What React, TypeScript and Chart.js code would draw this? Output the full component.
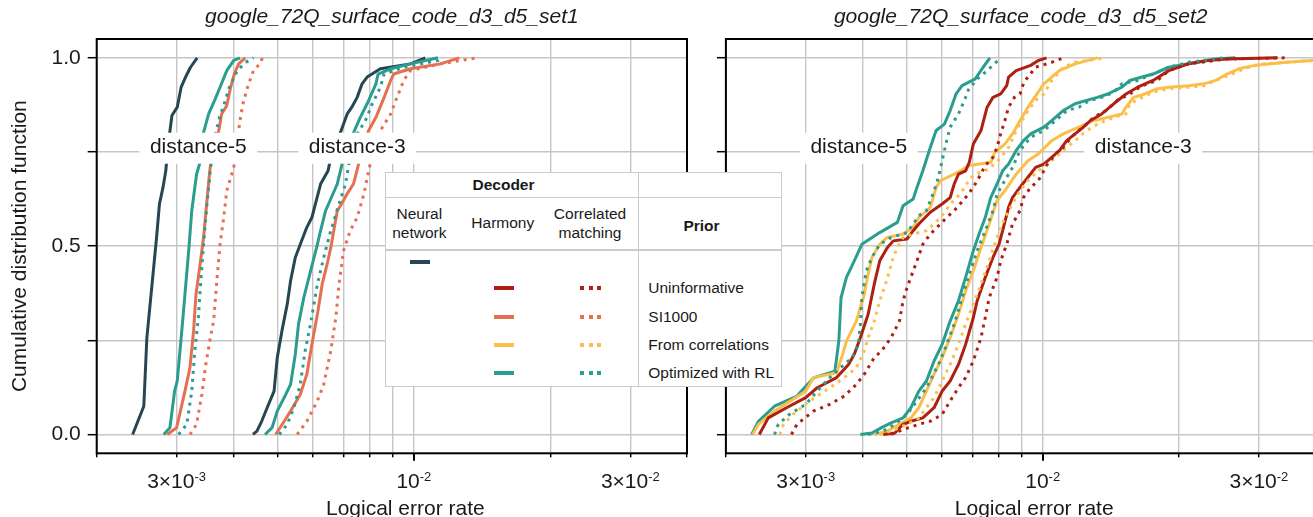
import React, { useEffect, useRef } from 'react';
import { Chart, registerables } from 'chart.js';

Chart.register(...registerables);

const FONT = '"Liberation Sans", Arial, Helvetica, sans-serif';
const INK = '#1a1a1a';
const GRID = '#c6c6c6';

const C_NN = '#264653';
const C_UNINF = '#ae2012';
const C_SI1000 = '#e76f51';
const C_CORR = '#fbbf49';
const C_RL = '#2a9d8f';

// x = logical error rate in units of 1e-3, y = cumulative distribution function
const UNIT = 1e-3;

// ---------- set 1 ----------
const S1_D5_NN = [[2.40,0],[2.54,0.075],[2.58,0.257],[2.64,0.381],[2.71,0.523],[2.75,0.612],[2.80,0.656],[2.84,0.70],[2.87,0.763],[2.93,0.847],[3.01,0.869],[3.07,0.922],[3.14,0.949],[3.22,0.975],[3.33,1.0]];
const S1_D5_HARM_RL = [[2.81,0],[2.90,0.018],[2.97,0.115],[3.01,0.142],[3.08,0.275],[3.13,0.372],[3.19,0.488],[3.24,0.594],[3.32,0.691],[3.37,0.718],[3.44,0.802],[3.53,0.851],[3.65,0.891],[3.74,0.922],[3.87,0.966],[4.01,0.993],[4.14,1.0]];
const S1_D5_HARM_SI = [[2.86,0],[3.00,0.018],[3.13,0.115],[3.21,0.177],[3.27,0.275],[3.31,0.372],[3.38,0.452],[3.44,0.523],[3.50,0.621],[3.55,0.70],[3.61,0.763],[3.71,0.802],[3.77,0.851],[3.87,0.873],[3.94,0.918],[4.02,0.957],[4.11,0.984],[4.25,1.0]];
const S1_D5_CM_RL = [[3.03,0],[3.16,0.027],[3.24,0.115],[3.29,0.222],[3.35,0.310],[3.38,0.381],[3.44,0.505],[3.50,0.612],[3.56,0.70],[3.61,0.763],[3.67,0.807],[3.73,0.842],[3.81,0.873],[3.91,0.918],[4.08,0.966],[4.26,0.988],[4.43,1.0]];
const S1_D5_CM_SI = [[3.21,0],[3.32,0.027],[3.41,0.106],[3.47,0.177],[3.56,0.257],[3.62,0.301],[3.68,0.408],[3.74,0.505],[3.81,0.576],[3.87,0.647],[4.01,0.709],[4.06,0.763],[4.11,0.807],[4.16,0.851],[4.21,0.882],[4.30,0.922],[4.43,0.966],[4.61,0.988],[4.63,1.0]];

const S1_D3_NN = [[4.42,0],[4.51,0.009],[4.62,0.035],[4.75,0.071],[4.92,0.115],[5.00,0.204],[5.12,0.275],[5.26,0.346],[5.35,0.408],[5.48,0.470],[5.62,0.505],[5.81,0.550],[5.96,0.576],[6.23,0.665],[6.47,0.70],[6.61,0.754],[6.89,0.802],[7.13,0.851],[7.30,0.869],[7.50,0.895],[7.69,0.931],[7.89,0.949],[8.44,0.971],[9.83,0.984],[10.6,1.0]];
const S1_D3_HARM_RL = [[4.70,0],[4.87,0.018],[5.00,0.062],[5.18,0.098],[5.35,0.133],[5.48,0.213],[5.57,0.293],[5.72,0.363],[5.92,0.434],[6.13,0.505],[6.23,0.541],[6.39,0.594],[6.78,0.665],[6.92,0.709],[7.07,0.763],[7.37,0.802],[7.62,0.842],[7.89,0.878],[8.25,0.931],[8.34,0.957],[8.89,0.971],[9.83,0.984],[11.3,1.0]];
const S1_D3_HARM_SI = [[4.96,0],[5.18,0.035],[5.35,0.062],[5.62,0.106],[5.81,0.160],[5.96,0.239],[6.13,0.319],[6.28,0.399],[6.44,0.452],[6.56,0.496],[6.78,0.594],[6.89,0.607],[7.12,0.638],[7.36,0.665],[7.49,0.70],[7.68,0.754],[7.95,0.807],[8.25,0.842],[8.60,0.895],[8.89,0.940],[9.03,0.957],[9.83,0.971],[11.44,0.984],[12.6,1.0]];
const S1_D3_CM_RL = [[5.05,0],[5.26,0.027],[5.44,0.071],[5.62,0.133],[5.76,0.222],[5.92,0.293],[6.13,0.399],[6.33,0.470],[6.56,0.541],[6.84,0.612],[7.07,0.665],[7.15,0.70],[7.30,0.763],[7.50,0.798],[7.82,0.833],[8.10,0.878],[8.44,0.922],[8.60,0.957],[9.50,0.975],[11.3,0.993],[11.5,1.0]];
const S1_D3_CM_SI = [[5.53,0],[5.81,0.035],[6.13,0.089],[6.33,0.133],[6.56,0.222],[6.73,0.310],[6.84,0.399],[7.00,0.488],[7.24,0.541],[7.50,0.576],[7.76,0.638],[7.95,0.70],[8.15,0.754],[8.44,0.807],[8.89,0.851],[9.18,0.895],[9.50,0.940],[9.83,0.966],[11.44,0.984],[13.8,1.0]];

// ---------- set 2 ----------
const S2_D5_HARM_RL = [[2.28,0],[2.36,0.035],[2.56,0.075],[2.87,0.102],[2.96,0.120],[3.13,0.151],[3.48,0.168],[3.55,0.248],[3.59,0.363],[3.69,0.417],[3.84,0.461],[3.99,0.505],[4.37,0.536],[4.78,0.563],[4.92,0.607],[5.18,0.625],[5.28,0.656],[5.44,0.70],[5.65,0.762],[5.82,0.807],[6.07,0.824],[6.25,0.860],[6.44,0.904],[6.64,0.926],[7.10,0.944],[7.39,0.975],[7.65,1.0]];
const S2_D5_HARM_CORR = [[2.29,0],[2.36,0.027],[2.56,0.062],[3.00,0.115],[3.12,0.151],[3.51,0.164],[3.62,0.213],[3.69,0.248],[3.88,0.301],[3.96,0.337],[4.04,0.372],[4.12,0.426],[4.20,0.470],[4.37,0.505],[4.54,0.523],[4.92,0.532],[5.18,0.550],[5.33,0.576],[5.65,0.603],[5.82,0.656],[5.95,0.674],[6.38,0.691],[6.89,0.714],[7.69,0.723],[7.84,0.749],[8.25,0.771],[8.58,0.798],[8.91,0.833],[9.28,0.869],[10.06,0.931],[10.88,0.966],[11.79,0.984],[13.2,1.0]];
const S2_D5_HARM_UNINF = [[2.37,0],[2.48,0.044],[2.76,0.075],[3.00,0.098],[3.18,0.124],[3.51,0.151],[3.73,0.186],[3.84,0.213],[3.96,0.257],[4.12,0.319],[4.25,0.399],[4.37,0.461],[4.54,0.496],[4.68,0.514],[5.02,0.519],[5.18,0.541],[5.33,0.559],[5.65,0.590],[6.00,0.612],[6.25,0.629],[6.38,0.665],[6.52,0.691],[6.76,0.70],[6.89,0.723],[7.03,0.771],[7.31,0.807],[7.54,0.869],[7.77,0.895],[8.08,0.904],[8.33,0.926],[8.41,0.949],[8.74,0.966],[9.41,0.980],[9.78,0.993],[10.2,1.0]];
const S2_D5_CM_CORR = [[2.63,0],[2.68,0.027],[2.81,0.053],[3.06,0.089],[3.39,0.124],[3.65,0.151],[3.88,0.177],[4.04,0.222],[4.12,0.257],[4.25,0.301],[4.37,0.355],[4.50,0.399],[4.59,0.434],[4.68,0.470],[4.78,0.496],[4.92,0.523],[5.18,0.532],[5.54,0.541],[5.76,0.559],[6.00,0.581],[6.25,0.612],[6.57,0.638],[6.76,0.660],[6.89,0.678],[7.10,0.691],[7.47,0.70],[7.93,0.723],[8.41,0.762],[8.74,0.807],[9.00,0.833],[9.28,0.860],[9.65,0.887],[10.06,0.904],[10.47,0.940],[11.1,0.975],[11.79,0.988],[13.8,1.0]];
const S2_D5_CM_RL = [[2.56,0],[2.61,0.027],[2.76,0.053],[3.00,0.080],[3.18,0.115],[3.39,0.151],[3.58,0.177],[3.80,0.204],[3.92,0.239],[3.96,0.293],[3.99,0.363],[4.08,0.434],[4.20,0.470],[4.37,0.505],[4.63,0.523],[5.02,0.536],[5.18,0.559],[5.33,0.581],[5.54,0.594],[5.76,0.647],[5.89,0.683],[6.00,0.727],[6.14,0.780],[6.25,0.816],[6.52,0.851],[6.76,0.895],[6.89,0.922],[7.03,0.931],[7.17,0.944],[7.54,0.966],[8.08,1.0]];
const S2_D5_CM_UNINF = [[2.79,0],[2.87,0.027],[3.12,0.062],[3.39,0.080],[3.65,0.102],[3.88,0.133],[4.04,0.160],[4.25,0.204],[4.41,0.222],[4.63,0.257],[4.83,0.301],[4.92,0.355],[5.02,0.390],[5.18,0.434],[5.28,0.461],[5.44,0.505],[5.65,0.532],[5.95,0.559],[6.14,0.576],[6.38,0.594],[6.76,0.629],[7.03,0.656],[7.24,0.683],[7.47,0.714],[7.77,0.736],[7.93,0.762],[8.08,0.798],[8.25,0.833],[8.41,0.869],[8.66,0.895],[8.91,0.904],[9.09,0.935],[9.28,0.949],[9.65,0.975],[10.47,0.988],[11.1,1.0]];

const S2_D3_HARM_RL = [[3.96,0],[4.20,0.004],[4.41,0.018],[4.63,0.031],[4.92,0.044],[5.12,0.071],[5.33,0.115],[5.54,0.142],[5.76,0.195],[6.00,0.239],[6.25,0.301],[6.52,0.355],[6.76,0.417],[7.03,0.488],[7.24,0.532],[7.47,0.576],[7.68,0.629],[7.93,0.665],[8.16,0.70],[8.41,0.718],[8.74,0.754],[9.07,0.780],[9.41,0.798],[10.06,0.816],[10.47,0.833],[11.1,0.860],[11.79,0.878],[12.5,0.887],[13.2,0.895],[13.92,0.904],[14.96,0.922],[15.57,0.940],[16.57,0.949],[17.52,0.957],[18.98,0.975],[21.84,0.988],[24.08,0.997],[26.6,1.0]];
const S2_D3_CM_RL = [[4.12,0],[4.45,0.009],[4.72,0.027],[5.02,0.053],[5.28,0.089],[5.54,0.124],[5.89,0.186],[6.14,0.239],[6.38,0.293],[6.64,0.363],[6.89,0.426],[7.17,0.488],[7.47,0.541],[7.77,0.594],[7.93,0.638],[8.25,0.674],[8.58,0.709],[8.91,0.754],[9.41,0.789],[10.06,0.807],[10.67,0.833],[11.3,0.860],[12.02,0.869],[12.7,0.887],[13.5,0.895],[14.35,0.909],[14.96,0.931],[16.2,0.940],[17.52,0.957],[18.98,0.975],[20.98,0.988],[25.08,1.0]];
const S2_D3_HARM_CORR = [[4.25,0],[4.54,0.009],[4.83,0.027],[5.12,0.044],[5.33,0.071],[5.54,0.115],[5.76,0.160],[6.00,0.204],[6.25,0.257],[6.52,0.319],[6.76,0.381],[7.03,0.434],[7.31,0.496],[7.62,0.559],[7.93,0.621],[8.25,0.647],[8.74,0.691],[9.28,0.727],[9.78,0.745],[10.47,0.780],[11.1,0.798],[12.02,0.816],[12.95,0.833],[13.92,0.842],[14.96,0.851],[15.27,0.869],[15.88,0.895],[16.8,0.904],[17.9,0.918],[18.98,0.922],[20.98,0.926],[22.7,0.931],[24.08,0.940],[25.5,0.957],[27.1,0.971],[29.4,0.980],[31.9,0.984],[34.5,0.988],[39.4,0.993],[45.3,1.0]];
const S2_D3_CM_CORR = [[4.37,0],[4.72,0.013],[5.02,0.027],[5.33,0.044],[5.54,0.071],[5.76,0.098],[6.00,0.142],[6.25,0.186],[6.52,0.239],[6.76,0.293],[7.03,0.346],[7.31,0.399],[7.62,0.461],[7.93,0.523],[8.25,0.576],[8.58,0.612],[8.91,0.647],[9.28,0.674],[9.78,0.70],[10.47,0.727],[11.1,0.754],[11.79,0.780],[12.5,0.807],[13.2,0.824],[14.35,0.842],[15.27,0.851],[15.57,0.878],[16.57,0.895],[17.52,0.909],[18.98,0.918],[20.98,0.922],[22.7,0.926],[24.08,0.940],[26.1,0.957],[28.4,0.975],[30.8,0.984],[34.5,0.988],[39.4,0.993],[45.3,1.0]];
const S2_D3_HARM_UNINF = [[4.45,0],[4.72,0.004],[4.92,0.027],[5.12,0.035],[5.44,0.044],[5.76,0.071],[6.00,0.115],[6.25,0.142],[6.52,0.186],[6.76,0.239],[7.03,0.310],[7.17,0.355],[7.47,0.417],[7.77,0.470],[8.01,0.505],[8.16,0.541],[8.41,0.603],[8.58,0.629],[8.91,0.656],[9.28,0.683],[9.65,0.709],[10.06,0.718],[10.47,0.736],[10.9,0.754],[11.3,0.780],[11.79,0.798],[12.3,0.816],[12.73,0.833],[13.5,0.851],[14.35,0.878],[15.27,0.904],[16.2,0.922],[17.52,0.940],[18.98,0.966],[20.98,0.984],[23.1,0.993],[25.5,0.997],[33.0,1.0]];
const S2_D3_CM_UNINF = [[4.63,0],[4.92,0.013],[5.33,0.027],[5.65,0.035],[6.00,0.053],[6.25,0.089],[6.52,0.124],[6.76,0.151],[7.03,0.195],[7.31,0.257],[7.47,0.310],[7.62,0.363],[7.93,0.417],[8.08,0.461],[8.33,0.505],[8.58,0.559],[8.91,0.594],[9.07,0.629],[9.41,0.656],[9.78,0.674],[10.06,0.70],[10.25,0.718],[10.67,0.745],[11.1,0.762],[11.56,0.789],[12.02,0.807],[12.5,0.824],[12.95,0.842],[13.8,0.860],[14.6,0.887],[15.57,0.904],[16.57,0.926],[17.9,0.940],[18.98,0.966],[20.98,0.984],[25.5,0.997],[34.5,1.0]];

// ---------- axes ----------
const X_MIN = 2e-3;
const X_MAX = 4e-2;
const X_GRID = [2, 3, 4, 5, 6, 7, 8, 9, 10, 20, 30, 40];
const X_LABELS = [
  { value: 3, base: '3×10', exp: '-3' },
  { value: 10, base: '10', exp: '-2' },
  { value: 30, base: '3×10', exp: '-2' },
];
const X_MAJOR = [10];
const Y_TICKS = [0, 0.25, 0.5, 0.75, 1];
const Y_LABELLED = [0, 0.5, 1];

const TITLE_1 = 'google_72Q_surface_code_d3_d5_set1';
const TITLE_2 = 'google_72Q_surface_code_d3_d5_set2';
const X_TITLE = 'Logical error rate';
const Y_TITLE = 'Cumulative distribution function';

const LABELS_1 = [
  { text: 'distance-5', x: 3.35, y: 0.76 },
  { text: 'distance-3', x: 7.5, y: 0.76 },
];
const LABELS_2 = [
  { text: 'distance-5', x: 3.93, y: 0.76 },
  { text: 'distance-3', x: 16.67, y: 0.76 },
];

const DECODERS = ['Neural network', 'Harmony', 'Correlated matching'];
const PRIORS = ['Uninformative', 'SI1000', 'From correlations', 'Optimized with RL'];
const PRIOR_COLORS = [C_UNINF, C_SI1000, C_CORR, C_RL];

type Curve = { label: string; data: number[][]; color: string; dotted: boolean };

const CURVES_1: Curve[] = [
  { label: 'CM SI1000 d5', data: S1_D5_CM_SI, color: C_SI1000, dotted: true },
  { label: 'CM RL d5', data: S1_D5_CM_RL, color: C_RL, dotted: true },
  { label: 'Harmony SI1000 d5', data: S1_D5_HARM_SI, color: C_SI1000, dotted: false },
  { label: 'Harmony RL d5', data: S1_D5_HARM_RL, color: C_RL, dotted: false },
  { label: 'NN d5', data: S1_D5_NN, color: C_NN, dotted: false },
  { label: 'CM SI1000 d3', data: S1_D3_CM_SI, color: C_SI1000, dotted: true },
  { label: 'CM RL d3', data: S1_D3_CM_RL, color: C_RL, dotted: true },
  { label: 'Harmony SI1000 d3', data: S1_D3_HARM_SI, color: C_SI1000, dotted: false },
  { label: 'Harmony RL d3', data: S1_D3_HARM_RL, color: C_RL, dotted: false },
  { label: 'NN d3', data: S1_D3_NN, color: C_NN, dotted: false },
];

const CURVES_2: Curve[] = [
  { label: 'CM Uninformative d5', data: S2_D5_CM_UNINF, color: C_UNINF, dotted: true },
  { label: 'CM From correlations d5', data: S2_D5_CM_CORR, color: C_CORR, dotted: true },
  { label: 'CM RL d5', data: S2_D5_CM_RL, color: C_RL, dotted: true },
  { label: 'Harmony Uninformative d5', data: S2_D5_HARM_UNINF, color: C_UNINF, dotted: false },
  { label: 'Harmony From correlations d5', data: S2_D5_HARM_CORR, color: C_CORR, dotted: false },
  { label: 'Harmony RL d5', data: S2_D5_HARM_RL, color: C_RL, dotted: false },
  { label: 'CM Uninformative d3', data: S2_D3_CM_UNINF, color: C_UNINF, dotted: true },
  { label: 'CM From correlations d3', data: S2_D3_CM_CORR, color: C_CORR, dotted: true },
  { label: 'CM RL d3', data: S2_D3_CM_RL, color: C_RL, dotted: true },
  { label: 'Harmony Uninformative d3', data: S2_D3_HARM_UNINF, color: C_UNINF, dotted: false },
  { label: 'Harmony From correlations d3', data: S2_D3_HARM_CORR, color: C_CORR, dotted: false },
  { label: 'Harmony RL d3', data: S2_D3_HARM_RL, color: C_RL, dotted: false },
];

const decorPlugin = {
  id: 'panelDecor',
  afterDatasetsDraw(chart: any, _args: any, opts: any) {
    const { ctx, chartArea: a } = chart;
    const xs = chart.scales.x;
    const ys = chart.scales.y;
    ctx.save();
    // distance labels with white boxes
    ctx.font = `21px ${FONT}`;
    ctx.textAlign = 'center';
    ctx.textBaseline = 'middle';
    for (const lab of opts.labels || []) {
      const px = xs.getPixelForValue(lab.x * UNIT);
      const py = ys.getPixelForValue(lab.y);
      const w = ctx.measureText(lab.text).width + 21;
      const h = 31;
      ctx.fillStyle = '#ffffff';
      ctx.fillRect(px - w / 2, py - h / 2, w, h);
      ctx.fillStyle = INK;
      ctx.fillText(lab.text, px, py - 1);
    }
    // frame
    ctx.strokeStyle = '#000';
    ctx.lineWidth = 2;
    ctx.strokeRect(a.left, a.top, a.right - a.left, a.bottom - a.top);
    // major x ticks (longer)
    ctx.lineWidth = 2;
    for (const v of X_MAJOR) {
      const px = Math.round(xs.getPixelForValue(v * UNIT)) + 0.0;
      ctx.beginPath();
      ctx.moveTo(px, a.bottom);
      ctx.lineTo(px, a.bottom + 7.5);
      ctx.stroke();
    }
    // x tick labels with superscripts
    ctx.fillStyle = INK;
    ctx.textAlign = 'left';
    ctx.textBaseline = 'alphabetic';
    const base = a.bottom + 34.4;
    for (const t of X_LABELS) {
      const px = xs.getPixelForValue(t.value * UNIT);
      ctx.font = `21px ${FONT}`;
      const wm = ctx.measureText(t.base).width;
      ctx.font = `13px ${FONT}`;
      const we = ctx.measureText(t.exp).width;
      const x0 = px - (wm + we) / 2;
      ctx.font = `21px ${FONT}`;
      ctx.fillText(t.base, x0, base);
      ctx.font = `13px ${FONT}`;
      ctx.fillText(t.exp, x0 + wm, base - 6.5);
    }
    // x title
    ctx.font = `21px ${FONT}`;
    ctx.textAlign = 'center';
    ctx.fillText(opts.xTitle, (a.left + a.right) / 2 + 13.5, 515);
    ctx.restore();
  },
};

type Panel = {
  title: string;
  curves: Curve[];
  labels: { text: string; x: number; y: number }[];
  yWidth: number;
  padRight: number;
  yLabels: boolean;
};

const PANEL_1: Panel = { title: TITLE_1, curves: CURVES_1, labels: LABELS_1, yWidth: 96.7, padRight: 18, yLabels: true };
const PANEL_2: Panel = { title: TITLE_2, curves: CURVES_2, labels: LABELS_2, yWidth: 20.9, padRight: 2.5, yLabels: false };

function makeConfig(p: Panel): any {
  return {
    type: 'scatter',
    data: {
      datasets: p.curves.map((c) => ({
        label: c.label,
        data: c.data.map(([x, y]) => ({ x: x * UNIT, y })),
        showLine: true,
        borderColor: c.color,
        backgroundColor: c.color,
        borderWidth: 3,
        borderDash: c.dotted ? [3, 5] : [],
        borderCapStyle: 'butt',
        borderJoinStyle: 'round',
        pointRadius: 0,
        pointHoverRadius: 0,
        tension: 0,
        fill: false,
      })),
    },
    options: {
      responsive: false,
      animation: false,
      events: [],
      layout: { padding: { left: 0, right: p.padRight, top: 0, bottom: 0 } },
      plugins: {
        legend: { display: false },
        tooltip: { enabled: false },
        title: {
          display: true,
          text: p.title,
          fullSize: false,
          color: INK,
          font: { family: FONT, size: 21, style: 'italic', weight: 'normal' },
          padding: { top: 5, bottom: 8.8 },
        },
        panelDecor: { labels: p.labels, xTitle: X_TITLE },
      },
      scales: {
        x: {
          type: 'logarithmic',
          min: X_MIN,
          max: X_MAX,
          afterBuildTicks: (s: any) => {
            s.ticks = X_GRID.map((v) => ({ value: v * UNIT }));
          },
          afterFit: (s: any) => {
            s.height = 63.7;
          },
          ticks: { display: false },
          grid: { color: GRID, lineWidth: 1.4, drawTicks: true, tickLength: 4, tickColor: '#000', tickWidth: 1.5 },
          border: { display: false },
        },
        y: {
          type: 'linear',
          min: -0.05,
          max: 1.05,
          afterBuildTicks: (s: any) => {
            s.ticks = Y_TICKS.map((v) => ({ value: v }));
          },
          afterFit: (s: any) => {
            s.width = p.yWidth;
          },
          ticks: {
            display: true,
            padding: 7,
            color: INK,
            font: { family: FONT, size: 21 },
            callback: (v: number) => (p.yLabels && Y_LABELLED.includes(v) ? v.toFixed(1) : ''),
          },
          grid: { color: GRID, lineWidth: 1.4, drawTicks: true, tickLength: 9, tickColor: '#000', tickWidth: 1.5 },
          border: { display: false },
          title: {
            display: p.yLabels,
            text: Y_TITLE,
            color: INK,
            font: { family: FONT, size: 21 },
            padding: { top: 8, bottom: 0 },
          },
        },
      },
    },
    plugins: [decorPlugin],
  };
}

function Txt(props: { x: number; y: number; bold?: boolean; children: React.ReactNode; lh?: number; align?: string }) {
  return (
    <div
      style={{
        position: 'absolute',
        left: props.x,
        top: props.y,
        transform: props.align === 'left' ? 'translate(0,-50%)' : 'translate(-50%,-50%)',
        whiteSpace: 'nowrap',
        textAlign: 'center',
        fontWeight: props.bold ? 700 : 400,
        lineHeight: props.lh ? `${props.lh}px` : 1,
      }}
    >
      {props.children}
    </div>
  );
}

function Sample(props: { x: number; y: number; w: number; color: string; dotted?: boolean }) {
  return (
    <div
      style={{
        position: 'absolute',
        left: props.x,
        top: props.y - 2,
        width: props.w,
        height: 4,
        background: props.dotted
          ? `repeating-linear-gradient(to right, ${props.color} 0px, ${props.color} 4px, transparent 4px, transparent 8.5px)`
          : props.color,
      }}
    />
  );
}

function Legend() {
  const W = 397.3;
  const H = 215;
  const rowY = [116.6, 145, 173.3, 201.6];
  const line = '#cccccc';
  const [nn, harm, cm] = DECODERS;
  const cmWords = cm.split(' ');
  const nnWords = nn.split(' ');
  return (
    <div
      style={{
        position: 'absolute',
        left: 385,
        top: 171.7,
        width: W,
        height: H,
        background: '#fff',
        fontFamily: FONT,
        fontSize: 15.5,
        color: INK,
      }}
    >
      <div style={{ position: 'absolute', left: 0, top: 0, width: W, height: H, boxSizing: 'border-box', border: `1.5px solid ${line}` }} />
      <div style={{ position: 'absolute', left: 0, top: 25.3, width: W, height: 1.5, background: line }} />
      <div style={{ position: 'absolute', left: 0, top: 77.6, width: W, height: 1.5, background: line }} />
      <div style={{ position: 'absolute', left: 252.6, top: 0, width: 1.5, height: H, background: line }} />
      <Txt x={118.5} y={13.5} bold>Decoder</Txt>
      <Txt x={34.3} y={51.8} lh={18.2}>
        {nnWords[0]}
        <br />
        {nnWords[1]}
      </Txt>
      <Txt x={117.8} y={51.8}>{harm}</Txt>
      <Txt x={205} y={51.8} lh={18.2}>
        {cmWords[0]}
        <br />
        {cmWords[1]}
      </Txt>
      <Txt x={316.5} y={54} bold>Prior</Txt>
      <Sample x={25} y={90} w={19.5} color={C_NN} />
      {PRIORS.map((p, i) => (
        <React.Fragment key={p}>
          <Sample x={109} y={rowY[i]} w={19.5} color={PRIOR_COLORS[i]} />
          <Sample x={195} y={rowY[i]} w={21} color={PRIOR_COLORS[i]} dotted />
          <Txt x={263.3} y={rowY[i]} align="left">{p}</Txt>
        </React.Fragment>
      ))}
    </div>
  );
}

export default function App() {
  const ref1 = useRef<HTMLCanvasElement>(null);
  const ref2 = useRef<HTMLCanvasElement>(null);
  useEffect(() => {
    Chart.defaults.font.family = FONT;
    const c1 = new Chart(ref1.current as HTMLCanvasElement, makeConfig(PANEL_1));
    const c2 = new Chart(ref2.current as HTMLCanvasElement, makeConfig(PANEL_2));
    return () => {
      c1.destroy();
      c2.destroy();
    };
  }, []);
  return (
    <div
      style={{
        position: 'absolute',
        left: 0,
        top: 0,
        width: 1313,
        height: 517,
        overflow: 'hidden',
        background: '#fff',
        fontFamily: FONT,
      }}
    >
      <canvas ref={ref1} width={705} height={517} style={{ position: 'absolute', left: 0, top: 0 }} />
      <canvas ref={ref2} width={613} height={517} style={{ position: 'absolute', left: 705, top: 0 }} />
      <Legend />
    </div>
  );
}
